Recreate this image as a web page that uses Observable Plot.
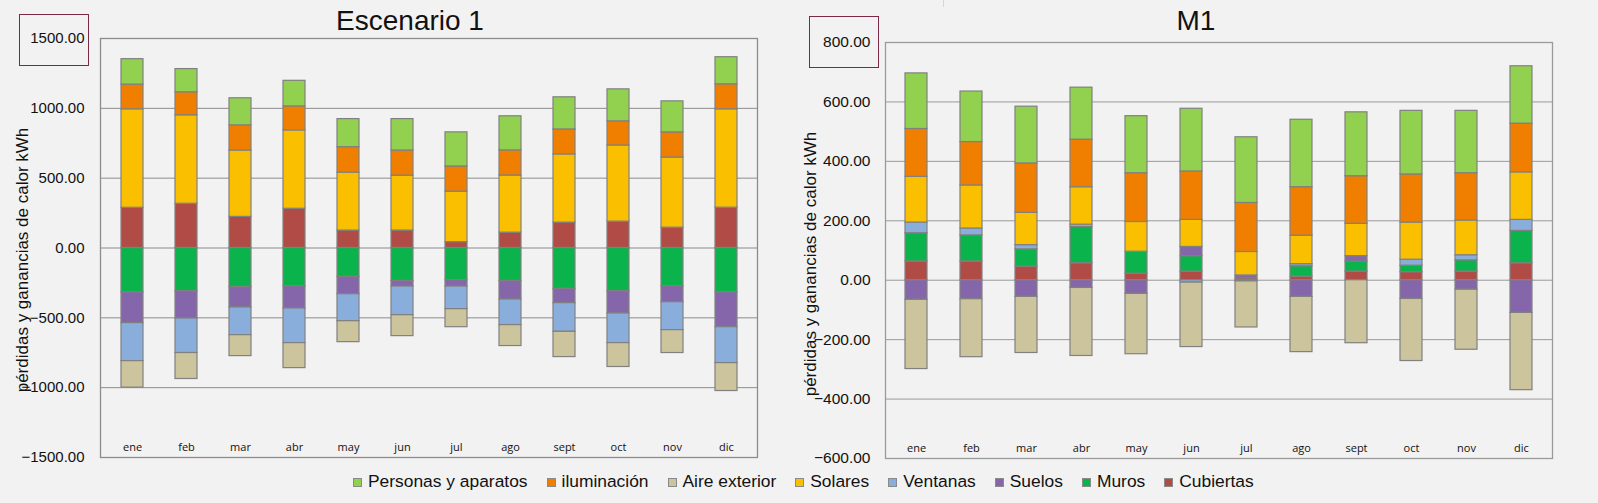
<!DOCTYPE html>
<html>
<head>
<meta charset="utf-8">
<script src="https://cdn.jsdelivr.net/npm/d3@7"></script>
<script src="https://cdn.jsdelivr.net/npm/@observablehq/plot@0.6"></script>
<style>
  html, body { margin:0; padding:0; background:#f2f2f2; }
  body { width:1598px; height:503px; position:relative; overflow:hidden; font-family:"Liberation Sans", Arial, sans-serif; }
  .panel { position:absolute; top:0; }
  .title { position:absolute; transform:translate(-50%,-50%); font-size:28px; line-height:1; color:#111; white-space:nowrap; }
  .ylab { position:absolute; transform:translate(-50%,-50%) rotate(-90deg); font-size:17px; line-height:1; color:#111; white-space:nowrap; }
  .selbox { position:absolute; border:1px solid #7a2a48; box-sizing:border-box; }
  .sep { position:absolute; left:943px; top:0; width:1px; height:7px; background:#d6d6d6; }
  #legend { position:absolute; left:353px; top:471px; display:flex; gap:19px; font-size:17.4px; color:#111; white-space:nowrap; }
  #legend .item { display:flex; align-items:center; }
  #legend .sw { width:9px; height:9px; border:1px solid #8a8a8a; box-sizing:border-box; margin-right:6px; margin-top:2px; }
</style>
</head>
<body>
<div class="sep"></div>
<div class="selbox" style="left:19px;top:14px;width:70px;height:52px;"></div>
<div class="selbox" style="left:809px;top:16px;width:70px;height:52px;"></div>
<div id="p1" class="panel" style="left:0px;"></div>
<div id="p2" class="panel" style="left:770px;"></div>
<div class="title" style="left:410px;top:21px;">Escenario 1</div>
<div class="title" style="left:1196px;top:21px;">M1</div>
<div class="ylab" style="left:22px;top:260px;">pérdidas y ganancias de calor kWh</div>
<div class="ylab" style="left:810px;top:264px;">pérdidas y ganancias de calor kWh</div>
<div id="legend"></div>
<script>
// Categories
const months = ["ene","feb","mar","abr","may","jun","jul","ago","sept","oct","nov","dic"];

// Series (stacking order) and colours
const seriesNames = ["Cubiertas","Muros","Suelos","Ventanas","Solares","Aire exterior","iluminación","Personas y aparatos"];
const seriesColors = ["#b04b45","#0bb34c","#8566aa","#8aaedc","#fac000","#cbc49c","#f07f00","#92d050"];
const legendOrder = ["Personas y aparatos","iluminación","Aire exterior","Solares","Ventanas","Suelos","Muros","Cubiertas"];

// Escenario 1 (kWh)
const e1Cubiertas  = [288, 317, 223, 281, 125, 125, 42, 110, 182, 189, 146, 289];
const e1Muros      = [-317,-310,-279,-274,-207,-236,-231,-236,-293,-310,-274,-317];
const e1Suelos     = [-221,-195,-147,-159,-124,-40,-45,-133,-102,-159,-114,-250];
const e1Ventanas   = [-272,-247,-198,-248,-193,-205,-162,-183,-205,-212,-200,-257];
const e1Solares    = [705, 633, 475, 561, 415, 393, 362, 409, 488, 545, 502, 704];
const e1Aire       = [-190,-186,-150,-179,-150,-150,-129,-150,-181,-171,-164,-200];
const e1Iluminacion= [177, 165, 180, 172, 182, 180, 180, 180, 179, 173, 180, 179];
const e1Personas   = [182, 166, 194, 183, 201, 225, 244, 244, 230, 229, 222, 194];
const e1Ticks = [-1500,-1000,-500,0,500,1000,1500];

// M1 (kWh)
const m1Cubiertas  = [63, 63, 46, 57, 22, 29, 6, 12, 29, 27, 29, 57];
const m1Muros      = [95, 88, 58, 122, 74, 52, 0, 35, 34, 22, 38, 109];
const m1Suelos     = [-66,-64,-56,-26,-46, 31, 10,-56, 18,-63,-32,-110];
const m1Ventanas   = [36, 23, 14, 8, 0, -8, -4, 7, 0, 20, 17, 37];
const m1Solares    = [154, 145, 109, 126, 100, 91, 79, 96, 109, 125, 117, 160];
const m1Aire       = [-233,-195,-189,-229,-203,-217,-155,-186,-212,-209,-202,-260];
const m1Iluminacion= [161, 146, 166, 160, 164, 163, 165, 163, 160, 162, 159, 164];
const m1Personas   = [187, 170, 191, 175, 192, 211, 221, 227, 215, 214, 210, 193];
const m1Ticks = [-600,-400,-200,0,200,400,600,800];

function toRows(seriesArrays) {
  const rows = [];
  seriesNames.forEach((name, si) => {
    seriesArrays[si].forEach((v, mi) => {
      if (v !== 0) rows.push({month: months[mi], series: name, value: v});
    });
  });
  return rows;
}

const e1Rows = toRows([e1Cubiertas,e1Muros,e1Suelos,e1Ventanas,e1Solares,e1Aire,e1Iluminacion,e1Personas]);
const m1Rows = toRows([m1Cubiertas,m1Muros,m1Suelos,m1Ventanas,m1Solares,m1Aire,m1Iluminacion,m1Personas]);

function panel(rows, ticks, opts) {
  return Plot.plot({
    width: opts.width, height: opts.height,
    marginLeft: opts.ml, marginRight: opts.mr, marginTop: opts.mt, marginBottom: opts.mb,
    style: {background: "transparent", fontFamily: "Liberation Sans, Arial, sans-serif", color: "#111", overflow: "visible"},
    x: {domain: months, paddingInner: 0.6, paddingOuter: opts.po, axis: null},
    y: {domain: [ticks[0], ticks[ticks.length-1]], axis: null},
    color: {domain: seriesNames, range: seriesColors},
    marks: [
      Plot.gridY(ticks, {stroke: opts.grid, strokeOpacity: 1, strokeWidth: 1}),
      Plot.frame({stroke: opts.grid, strokeWidth: 1.3}),
      Plot.barY(rows, {x: "month", y: "value", fill: "series", stroke: "#808080", strokeWidth: 1.2}),
      Plot.axisY(ticks, {tickFormat: d3.format(".2f"), tickSize: 0, tickPadding: opts.tp, fontSize: opts.fs, label: null}),
      Plot.axisX({tickSize: 0, tickPadding: 0, dy: opts.xdy, fontSize: 11, label: null, fontFamily: "Open Sans, sans-serif"})
    ]
  });
}

document.getElementById("p1").append(panel(e1Rows, e1Ticks, {
  width: 770, height: 460, ml: 100, mr: 13, mt: 38, mb: 3, po: 0.28, tp: 16, fs: 15, grid: "#8c8c8c", xdy: -14
}));
document.getElementById("p2").append(panel(m1Rows, m1Ticks, {
  width: 800, height: 460, ml: 115, mr: 18, mt: 42, mb: 2, po: 0.31, tp: 15, fs: 15.5, grid: "#9a9a9a", xdy: -14
}));

const colorOf = Object.fromEntries(seriesNames.map((n, i) => [n, seriesColors[i]]));
const legend = document.getElementById("legend");
legendOrder.forEach(name => {
  const item = document.createElement("div");
  item.className = "item";
  const sw = document.createElement("div");
  sw.className = "sw";
  sw.style.background = colorOf[name];
  const t = document.createElement("span");
  t.textContent = name;
  item.append(sw, t);
  legend.append(item);
});
</script>
</body>
</html>
